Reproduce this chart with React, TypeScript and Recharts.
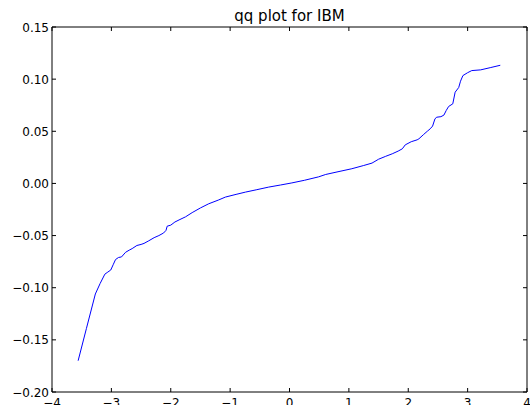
import { LineChart, Line, XAxis, YAxis } from 'recharts'

// theoretical quantiles vs. ordered IBM returns
const quantiles = [
    -3.56, -3.42, -3.27, -3.19, -3.11, -3.06, -3.01, -2.97, -2.93, -2.88,
    -2.83, -2.76, -2.7, -2.65, -2.57, -2.5, -2.45, -2.37, -2.28, -2.2,
    -2.12, -2.08, -2.06, -2.0, -1.93, -1.86, -1.75, -1.64, -1.5, -1.36,
    -1.2, -1.08, -0.9, -0.74, -0.55, -0.35, -0.15, 0.04, 0.25, 0.49,
    0.61, 0.8, 1.05, 1.25, 1.39, 1.5, 1.62, 1.73, 1.83, 1.9,
    1.95, 2.05, 2.15, 2.18, 2.26, 2.32, 2.37, 2.41, 2.45, 2.48,
    2.55, 2.6, 2.64, 2.68, 2.75, 2.79, 2.85, 2.88, 2.92, 3.0,
    3.07, 3.22, 3.38, 3.55,
]
const returns = [
    -0.17, -0.139, -0.106, -0.096, -0.087, -0.085, -0.083, -0.078, -0.073, -0.071,
    -0.0705, -0.066, -0.064, -0.0625, -0.0595, -0.0585, -0.0575, -0.055, -0.052, -0.05,
    -0.0475, -0.045, -0.041, -0.04, -0.037, -0.035, -0.032, -0.028, -0.0235, -0.0195,
    -0.016, -0.0131, -0.0105, -0.0083, -0.006, -0.0035, -0.0015, 0.0005, 0.003, 0.0063,
    0.0086, 0.011, 0.0141, 0.0172, 0.0195, 0.0232, 0.026, 0.0284, 0.031, 0.0332,
    0.037, 0.04, 0.0418, 0.0428, 0.047, 0.05, 0.0524, 0.055, 0.062, 0.0635,
    0.064, 0.0655, 0.07, 0.0738, 0.0763, 0.0875, 0.092, 0.098, 0.1034, 0.1062,
    0.1082, 0.1089, 0.111, 0.1133,
]
const xTicks = [-4, -3, -2, -1, 0, 1, 2, 3, 4]
const yTicks = [-0.2, -0.15, -0.1, -0.05, 0, 0.05, 0.1, 0.15]

const data = quantiles.map((q, i) => ({ q, r: returns[i] }))

const FONT = '"DejaVu Sans", sans-serif'
const minus = (s: string) => s.replace('-', '\u2212')

const BottomTick = (props: any) => {
    const { x, y, payload } = props
    return (
        <g>
            <line x1={x} x2={x} y1={y} y2={y - 4} stroke="#000" />
            <text x={x} y={y + 15} textAnchor="middle" fontSize={12} fontFamily={FONT} fill="#000">
                {minus(String(payload.value))}
            </text>
        </g>
    )
}
const TopTick = (props: any) => {
    const { x, y } = props
    return <line x1={x} x2={x} y1={y} y2={y + 4} stroke="#000" />
}
const LeftTick = (props: any) => {
    const { x, y, payload } = props
    return (
        <g>
            <line x1={x} x2={x + 4} y1={y} y2={y} stroke="#000" />
            <text x={x - 3} y={y + 4.5} textAnchor="end" fontSize={12} fontFamily={FONT} fill="#000">
                {minus(Number(payload.value).toFixed(2))}
            </text>
        </g>
    )
}
const RightTick = (props: any) => {
    const { x, y } = props
    return <line x1={x} x2={x - 4} y1={y} y2={y} stroke="#000" />
}

export default function App() {
    return (
        <div style={{ position: 'absolute', left: 0, top: 0, width: 530, height: 405, background: '#fff', overflow: 'hidden' }}>
            <div
                style={{
                    position: 'absolute', left: 52, width: 475, top: 9, lineHeight: '15px',
                    textAlign: 'center', fontFamily: FONT, fontSize: 15, color: '#000',
                }}
            >
                qq plot for IBM
            </div>
            <LineChart width={530} height={405} data={data} margin={{ top: 0, right: 0, bottom: 0, left: 0 }}>
                <XAxis
                    xAxisId="bottom"
                    dataKey="q"
                    type="number"
                    domain={[-4, 4]}
                    ticks={xTicks}
                    interval={0}
                    height={13}
                    stroke="#000"
                    tickSize={0}
                    tickMargin={0}
                    tick={BottomTick}
                    allowDataOverflow
                />
                <XAxis
                    xAxisId="top"
                    orientation="top"
                    dataKey="q"
                    type="number"
                    domain={[-4, 4]}
                    ticks={xTicks}
                    interval={0}
                    height={27}
                    stroke="#000"
                    tickSize={0}
                    tickMargin={0}
                    tick={TopTick}
                    allowDataOverflow
                />
                <YAxis
                    yAxisId="left"
                    type="number"
                    domain={[-0.2, 0.15]}
                    ticks={yTicks}
                    interval={0}
                    width={52}
                    stroke="#000"
                    tickSize={0}
                    tickMargin={0}
                    tick={LeftTick}
                    allowDataOverflow
                />
                <YAxis
                    yAxisId="right"
                    orientation="right"
                    type="number"
                    domain={[-0.2, 0.15]}
                    ticks={yTicks}
                    interval={0}
                    width={3}
                    stroke="#000"
                    tickSize={0}
                    tickMargin={0}
                    tick={RightTick}
                    allowDataOverflow
                />
                <Line
                    xAxisId="bottom"
                    yAxisId="left"
                    dataKey="r"
                    type="linear"
                    stroke="#0000ff"
                    strokeWidth={1}
                    dot={false}
                    isAnimationActive={false}
                />
            </LineChart>
        </div>
    )
}
